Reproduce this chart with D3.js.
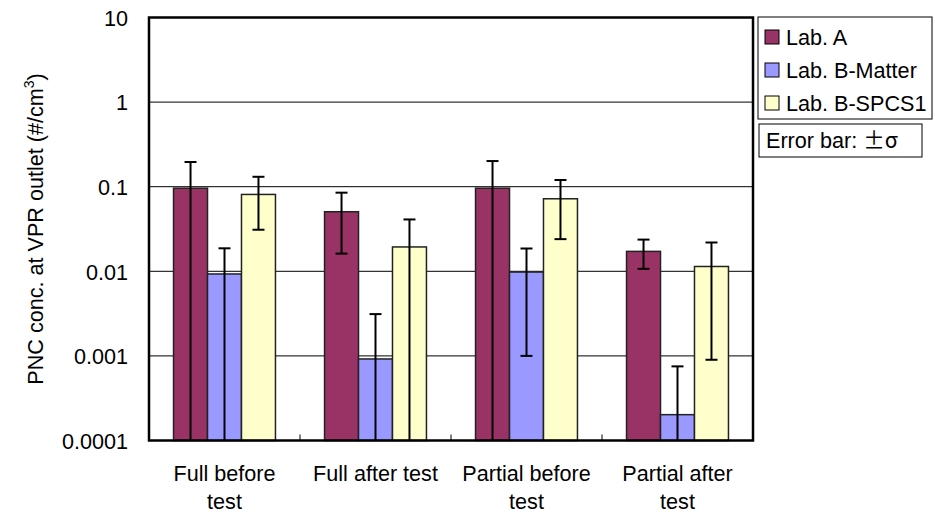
<!DOCTYPE html>
<html>
<head>
<meta charset="utf-8">
<script src="https://cdn.jsdelivr.net/npm/d3@7"></script>
<style>
  html, body { margin: 0; padding: 0; background: #fff; }
  svg { display: block; }
  text { font-family: "Liberation Sans", Arial, sans-serif; fill: #000; }
</style>
</head>
<body>
<svg id="chart" width="935" height="514"></svg>
<script>
// Test conditions (x-axis categories), each split into its label lines
const categories = ["Full before test", "Full after test", "Partial before test", "Partial after test"];
const categoryLines = [["Full before", "test"], ["Full after test"], ["Partial before", "test"], ["Partial after", "test"]];

// Laboratories / counters
const seriesNames = ["Lab. A", "Lab. B-Matter", "Lab. B-SPCS1"];
const seriesColors = ["#993366", "#9999FF", "#FFFFCC"];

// Mean PNC at VPR outlet (#/cm3) per category
const labA       = [0.096, 0.0506, 0.096, 0.0172];
const labBMatter = [0.0093, 0.00092, 0.0098, 0.000202];
const labBSPCS1  = [0.081, 0.0194, 0.072, 0.0114];

// Standard deviation (error bar: ±σ)
const labASigma       = [0.100, 0.0344, 0.105, 0.0065];
const labBMatterSigma = [0.0094, 0.0022, 0.0088, 0.00055];
const labBSPCS1Sigma  = [0.050, 0.0216, 0.048, 0.0105];

// Log-axis tick values and labels
const yTicks = [0.0001, 0.001, 0.01, 0.1, 1, 10];
const yTickLabels = ["0.0001", "0.001", "0.01", "0.1", "1", "10"];

const seriesValues = [labA, labBMatter, labBSPCS1];
const seriesSigmas = [labASigma, labBMatterSigma, labBSPCS1Sigma];

const svg = d3.select("#chart");
const plot = { left: 149, right: 753, top: 17.5, bottom: 440.5 };

const x0 = d3.scaleBand()
  .domain(categories)
  .range([plot.left, plot.right])
  .paddingInner(0.325)
  .paddingOuter(0.1625);
const x1 = d3.scaleBand()
  .domain(seriesNames)
  .range([0, x0.bandwidth()]);
const y = d3.scaleLog()
  .domain([0.0001, 10])
  .range([plot.bottom, plot.top]);

const fontSize = 21.6;

// Horizontal gridlines
svg.append("g")
  .selectAll("line")
  .data(yTicks.slice(1, -1))
  .join("line")
  .attr("x1", plot.left).attr("x2", plot.right)
  .attr("y1", d => y(d)).attr("y2", d => y(d))
  .attr("stroke", "#000").attr("stroke-width", 1);

// Bars
const rows = [];
categories.forEach((c, i) => {
  seriesNames.forEach((s, j) => {
    rows.push({ cat: c, series: s, j, value: seriesValues[j][i], sigma: seriesSigmas[j][i] });
  });
});

svg.append("g")
  .selectAll("rect")
  .data(rows)
  .join("rect")
  .attr("x", d => x0(d.cat) + x1(d.series))
  .attr("width", x1.bandwidth())
  .attr("y", d => y(d.value))
  .attr("height", d => y(0.0001) - y(d.value))
  .attr("fill", d => seriesColors[d.j])
  .attr("stroke", "#222")
  .attr("stroke-width", 1.5);

// Error bars (lower end falls off the log axis when value - σ <= 0)
const capHalf = 6;
const eb = svg.append("g").attr("stroke", "#000").attr("stroke-width", 2);
rows.forEach(d => {
  const cx = x0(d.cat) + x1(d.series) + x1.bandwidth() / 2;
  const hi = d.value + d.sigma;
  const lo = d.value - d.sigma;
  const yHi = y(hi);
  const yLo = lo > 0 ? y(lo) : plot.bottom;
  eb.append("line").attr("x1", cx).attr("x2", cx).attr("y1", yHi).attr("y2", yLo);
  eb.append("line").attr("x1", cx - capHalf).attr("x2", cx + capHalf).attr("y1", yHi).attr("y2", yHi);
  if (lo > 0) {
    eb.append("line").attr("x1", cx - capHalf).attr("x2", cx + capHalf).attr("y1", yLo).attr("y2", yLo);
  }
});

// Category separator ticks (inward)
const sepX = categories.slice(1).map(c => x0(c) - x0.step() * x0.paddingInner() / 2);
svg.append("g")
  .selectAll("line")
  .data(sepX)
  .join("line")
  .attr("x1", d => d).attr("x2", d => d)
  .attr("y1", plot.bottom).attr("y2", plot.bottom - 6)
  .attr("stroke", "#000").attr("stroke-width", 1);

// Plot frame
svg.append("rect")
  .attr("x", plot.left).attr("y", plot.top)
  .attr("width", plot.right - plot.left).attr("height", plot.bottom - plot.top)
  .attr("fill", "none").attr("stroke", "#000").attr("stroke-width", 2.5);

// Y axis tick labels
const yAxis = d3.axisLeft(y)
  .tickValues(yTicks)
  .tickFormat((d, i) => yTickLabels[i])
  .tickSize(0)
  .tickPadding(21);
const gy = svg.append("g").attr("transform", `translate(${plot.left},0)`).call(yAxis);
gy.select(".domain").remove();
gy.selectAll("text")
  .attr("font-family", '"Liberation Sans", Arial, sans-serif')
  .attr("font-size", fontSize)
  .attr("dy", "0.36em")
  .attr("fill", "#000");

// X axis category labels
const xl = svg.append("g");
categories.forEach((c, i) => {
  const cx = x0(c) + x0.bandwidth() / 2;
  const t = xl.append("text")
    .attr("x", cx).attr("y", 481)
    .attr("text-anchor", "middle")
    .attr("font-size", fontSize);
  categoryLines[i].forEach((line, k) => {
    t.append("tspan").attr("x", cx).attr("dy", k === 0 ? 0 : 28).text(line);
  });
});

// Y axis title
const yt = svg.append("text")
  .attr("transform", `translate(43,${(plot.top + plot.bottom) / 2}) rotate(-90)`)
  .attr("text-anchor", "middle")
  .attr("font-size", fontSize);
yt.append("tspan").text("PNC conc. at VPR outlet (#/cm");
yt.append("tspan").attr("font-size", 14).attr("dy", -9).text("3");
yt.append("tspan").attr("dy", 9).text(")");

// Legend
const lg = svg.append("g");
lg.append("rect")
  .attr("x", 758).attr("y", 17).attr("width", 174).attr("height", 102)
  .attr("fill", "#fff").attr("stroke", "#000").attr("stroke-width", 1);
seriesNames.forEach((s, j) => {
  const cy = 37 + j * 33;
  lg.append("rect")
    .attr("x", 765).attr("y", cy - 7).attr("width", 14).attr("height", 14)
    .attr("fill", seriesColors[j]).attr("stroke", "#000").attr("stroke-width", 1);
  lg.append("text")
    .attr("x", 786).attr("y", cy + 7.5)
    .attr("font-size", fontSize)
    .text(s);
});

// Error bar note
lg.append("rect")
  .attr("x", 759).attr("y", 124).attr("width", 163).attr("height", 33)
  .attr("fill", "#fff").attr("stroke", "#000").attr("stroke-width", 1);
const note = lg.append("text")
  .attr("x", 766).attr("y", 148)
  .attr("font-size", fontSize);
note.append("tspan").text("Error bar: ");
note.append("tspan").attr("font-family", '"Noto Sans CJK JP", sans-serif').text("±σ");
</script>
</body>
</html>
